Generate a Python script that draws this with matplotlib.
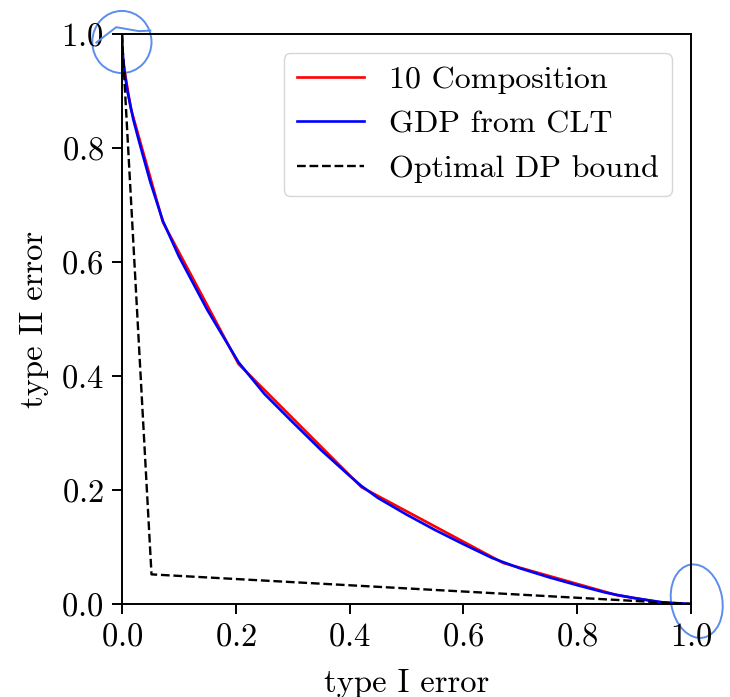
#!/usr/bin/env python3

import numpy as np
import matplotlib.pyplot as plt
from matplotlib.patches import Ellipse

plt.rcParams['font.family'] = 'cmr10'
plt.rcParams['mathtext.fontset'] = 'cm'
plt.rcParams['axes.formatter.use_mathtext'] = True
plt.rcParams['font.size'] = 23.5

# 10-fold composition (piecewise linear trade-off)
comp_x = [0.0, 0.0015, 0.0155, 0.072, 0.205, 0.421, 0.67, 0.87, 0.955, 1.0]
comp_y = [1.0, 0.955, 0.87, 0.67, 0.421, 0.205, 0.072, 0.0155, 0.0015, 0.0]

# GDP curve
gdp_x = [0.0, 0.001, 0.005, 0.01, 0.0155, 0.02, 0.03, 0.05, 0.072, 0.1, 0.15,
         0.205, 0.25, 0.3, 0.35, 0.4, 0.421, 0.45, 0.5, 0.55, 0.6, 0.65,
         0.67, 0.7, 0.75, 0.8, 0.85, 0.87, 0.9, 0.95, 1.0]
gdp_y = [1.0, 0.97, 0.93, 0.898, 0.872, 0.85, 0.812, 0.74, 0.672, 0.61, 0.516,
         0.424, 0.369, 0.319, 0.270, 0.225, 0.207, 0.186, 0.157, 0.130, 0.105,
         0.081, 0.0735, 0.0625, 0.047, 0.033, 0.020, 0.016, 0.0105, 0.003, 0.0]

# optimal DP bound
dp_x = [0.0, 0.052, 1.0]
dp_y = [1.0, 0.052, 0.0]

fig = plt.figure(figsize=(7.3, 6.97), dpi=100)
ax = fig.add_axes([0.167, 0.1334, 0.7796, 0.8178])

ax.plot(comp_x, comp_y, color='red', lw=1.9, label='10 Composition')
ax.plot(gdp_x, gdp_y, color='blue', lw=1.9, label='GDP from CLT')
ax.plot(dp_x, dp_y, 'k--', lw=1.7, label='Optimal DP bound')

ax.set_xlim(0, 1)
ax.set_ylim(0, 1)
ax.set_xticks([0, 0.2, 0.4, 0.6, 0.8, 1.0])
ax.set_yticks([0, 0.2, 0.4, 0.6, 0.8, 1.0])
ax.tick_params(length=7, width=1.4, pad=6)
for s in ax.spines.values():
    s.set_linewidth(1.4)
ax.set_xlabel('type I error', labelpad=13)
ax.set_ylabel('type II error', labelpad=9)
ax.legend(loc='upper right', fontsize=23, handlelength=2.1, borderaxespad=0.6)

# hand-drawn circles
pen = '#5b8def'
ax.add_patch(Ellipse((0.0, 0.986), 0.104, 0.109, fill=False, ec=pen, lw=1.4, clip_on=False))
ax.plot([-0.045, -0.01, 0.03, 0.05], [0.985, 1.012, 1.005, 1.006], color=pen, lw=1.4, clip_on=False)
ax.add_patch(Ellipse((1.01, 0.005), 0.09, 0.13, angle=10, fill=False, ec=pen, lw=1.4, clip_on=False))

plt.savefig('out.png')
